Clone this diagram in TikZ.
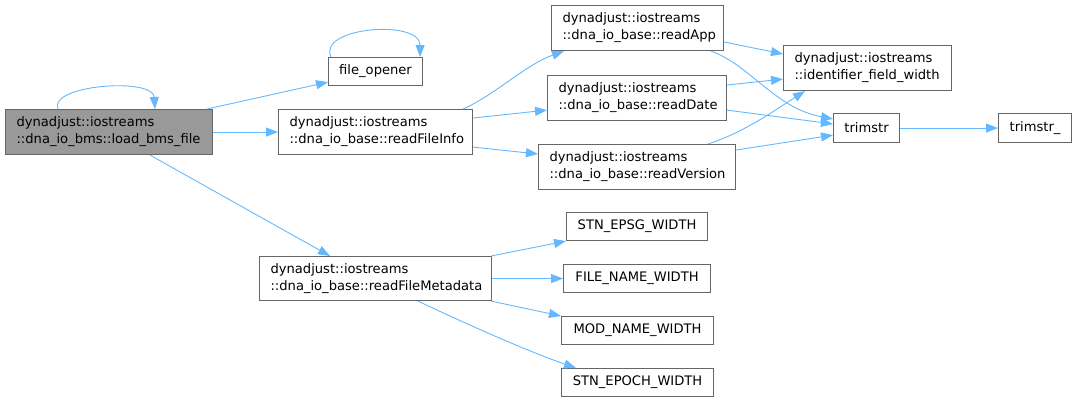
\documentclass[tikz,border=0pt]{standalone}
\usepackage{fontspec}
\setmainfont{DejaVu Sans}
\usetikzlibrary{arrows.meta,calc}
\definecolor{edgec}{HTML}{63B8FF}
\definecolor{bord}{HTML}{666666}
\definecolor{mainfill}{HTML}{999999}
\begin{document}
\begin{tikzpicture}[x=1pt,y=-1pt,
  box/.style={draw=bord,line width=1.1pt,fill=white,anchor=north west,inner sep=0pt,font=\fontsize{13.1}{17}\selectfont},
  mbox/.style={box,align=left,inner xsep=11pt,minimum height=45pt},
  sbox/.style={box,align=center,minimum height=28pt},
  link/.style={draw=edgec,line width=0.9pt,-{Triangle[length=12pt,width=9pt]}}]
\useasboundingbox (0,0) rectangle (1076,402);
% nodes
\node[mbox,fill=mainfill,text width=185pt] (main) at (5,109) {dynadjust::iostreams\\::dna\_io\_bms::load\_bms\_file};
\node[sbox,minimum width=94pt] (fo) at (328,57) {file\_opener};
\node[mbox,text width=172pt] (rfi) at (278,109) {dynadjust::iostreams\\::dna\_io\_base::readFileInfo};
\node[mbox,text width=150pt] (app) at (551,5) {dynadjust::iostreams\\::dna\_io\_base::readApp};
\node[mbox,text width=157pt] (date) at (547,75) {dynadjust::iostreams\\::dna\_io\_base::readDate};
\node[mbox,text width=175pt] (ver) at (538,144) {dynadjust::iostreams\\::dna\_io\_base::readVersion};
\node[mbox,text width=146pt] (idw) at (783,45) {dynadjust::iostreams\\::identifier\_field\_width};
\node[sbox,minimum width=66pt,minimum height=29pt] (trim) at (833,113) {trimstr};
\node[sbox,minimum width=73pt,minimum height=29pt] (trimu) at (998,113) {trimstr\_};
\node[mbox,text width=210pt,minimum height=44pt] (rfm) at (259,256) {dynadjust::iostreams\\::dna\_io\_base::readFileMetadata};
\node[sbox,minimum width=141pt] (epsg) at (566,212) {STN\_EPSG\_WIDTH};
\node[sbox,minimum width=147pt] (fname) at (563,264) {FILE\_NAME\_WIDTH};
\node[sbox,minimum width=152pt] (mod) at (561,316) {MOD\_NAME\_WIDTH};
\node[sbox,minimum width=152pt] (epoch) at (561,368) {STN\_EPOCH\_WIDTH};
% edges
\draw[link] ($(main.north west)+(53,0)$) .. controls +(-10,-24) and +(-2,-32) .. ($(main.north west)+(150,0)$);
\draw[link] ($(main.north west)+(202,0)$) -- ($(fo.south west)+(0,-4)$);
\draw[link] (main.east) -- (rfi.west);
\draw[link] ($(main.south west)+(145,0)$) -- ($(rfm.north west)+(71,0)$);
\draw[link] ($(fo.north west)+(3,0)$) .. controls +(-14,-30) and +(0,-38) .. ($(fo.north east)+(-3,0)$);
\draw[link] ($(rfi.north west)+(185,0)$) .. controls (495,95) and (525,65) .. ($(app.south west)+(13,0)$);
\draw[link] ($(rfi.north east)+(0,9)$) -- ($(date.south west)+(0,-11)$);
\draw[link] ($(rfi.south east)+(0,-8)$) -- ($(ver.north west)+(0,10)$);
\draw[link] ($(app.north east)+(0,37)$) -- ($(idw.north west)+(0,9)$);
\draw[link] ($(app.south west)+(160,0)$) .. controls (750,65) and (775,108) .. ($(trim.north west)+(0,6)$);
\draw[link] ($(date.north east)+(0,10)$) -- ($(idw.south west)+(0,-12)$);
\draw[link] ($(date.south east)+(0,-11)$) -- ($(trim.north west)+(0,11)$);
\draw[link] ($(ver.north west)+(170,0)$) .. controls (745,132) and (775,110) .. ($(idw.south west)+(22,0)$);
\draw[link] ($(ver.north east)+(0,6)$) -- ($(trim.south west)+(0,-8)$);
\draw[link] (trim.east) -- (trimu.west);
\draw[link] ($(rfm.north east)+(-1,0)$) -- (epsg.south west);
\draw[link] (rfm.east) -- (fname.west);
\draw[link] ($(rfm.south east)+(-1,0)$) -- (mod.north west);
\draw[link] ($(rfm.south west)+(159,0)$) .. controls (475,328) and (530,352) .. ($(epoch.north west)+(15,0)$);
\end{tikzpicture}
\end{document}
